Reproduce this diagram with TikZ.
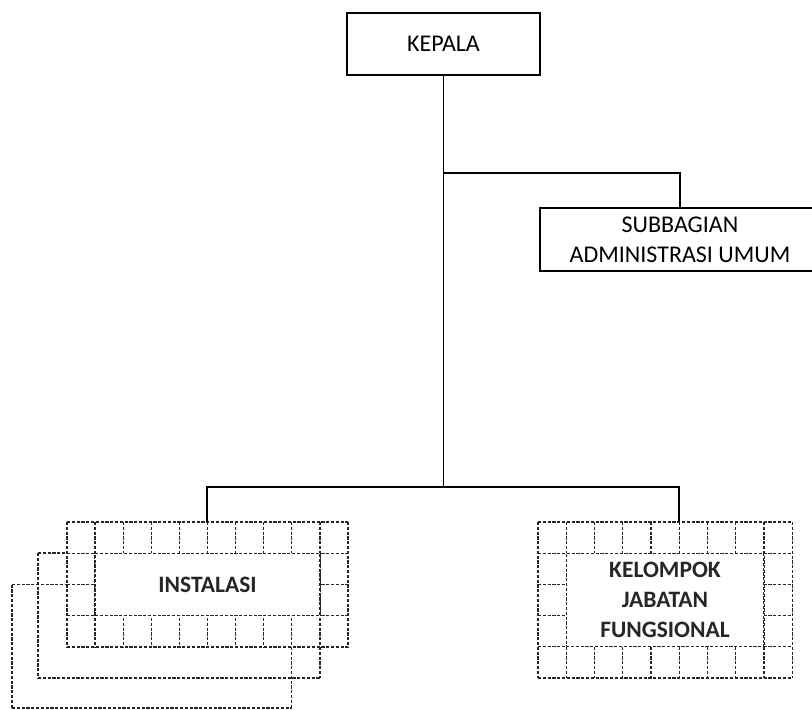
\documentclass[tikz,border=0pt]{standalone}
\usepackage{fontspec}
\setmainfont{Carlito}
\begin{document}
\begin{tikzpicture}[x=1pt,y=-1pt,
  solidln/.style={line width=1.6pt,black},
  dashln/.style={line width=1.3pt,black!85,dash pattern=on 3.2pt off 1.6pt},
  solidbox/.style={draw,solidln,rectangle,inner sep=0pt,font=\fontsize{24}{30}\selectfont,align=center},
  dashbox/.style={draw,dashln,fill=white,rectangle,inner sep=0pt,font=\fontsize{23.5}{30}\selectfont\bfseries,align=center}]
\useasboundingbox (0,0) rectangle (812,710);
\clip (0,0) rectangle (812,710);

% top nodes
\node[solidbox,minimum width=193pt,minimum height=62pt] (kepala) at (443.5,44) {KEPALA};
\node[solidbox,minimum width=280pt,minimum height=63pt] (subbag) at (680,239.5) {SUBBAGIAN\\ADMINISTRASI UMUM};

% back frames of INSTALASI (only the parts outside the front grid)
\draw[dashln] (38,553) -- (38,678);
\draw[dashln] (38,678) -- (319.9,678);
\draw[dashln] (319.9,647) -- (319.9,678);
\draw[dashln] (38,553) -- (67,553);
\draw[dashln] (12,584.5) -- (12,708);
\draw[dashln] (12,708) -- (291.8,708);
\draw[dashln] (291.8,647) -- (291.8,708);
\draw[dashln] (12,584.5) -- (67,584.5);

% INSTALASI grid
\foreach \i in {0,...,10} \draw[dashln] ({67+28.1*\i},522) -- ({67+28.1*\i},647);
\foreach \y in {522,553.25,584.5,615.75,647} \draw[dashln] (67,\y) -- (348,\y);
\node[dashbox,minimum width=224.8pt,minimum height=62.5pt] (instalasi) at (207.5,584.5) {INSTALASI};

% KELOMPOK grid
\foreach \i in {0,...,9} \draw[dashln] ({538+28.25*\i},522) -- ({538+28.25*\i},678);
\foreach \j in {0,...,5} \draw[dashln] (538,{522+31.2*\j}) -- (792.25,{522+31.2*\j});
\node[dashbox,minimum width=197.5pt,minimum height=93.6pt] (kelompok) at (665,600) {KELOMPOK\\JABATAN\\FUNGSIONAL};

% connectors
\coordinate (jsub) at (443.5,173);
\coordinate (jbot) at (443.5,487);
\coordinate (itop) at (207,522);
\coordinate (ktop) at (679,522);
\draw[solidln] (kepala.south) -- (jbot);
\draw[solidln] (jsub) -| (subbag.north);
\draw[solidln] (itop) |- (jbot);
\draw[solidln] (ktop) |- (jbot);
\end{tikzpicture}
\end{document}
